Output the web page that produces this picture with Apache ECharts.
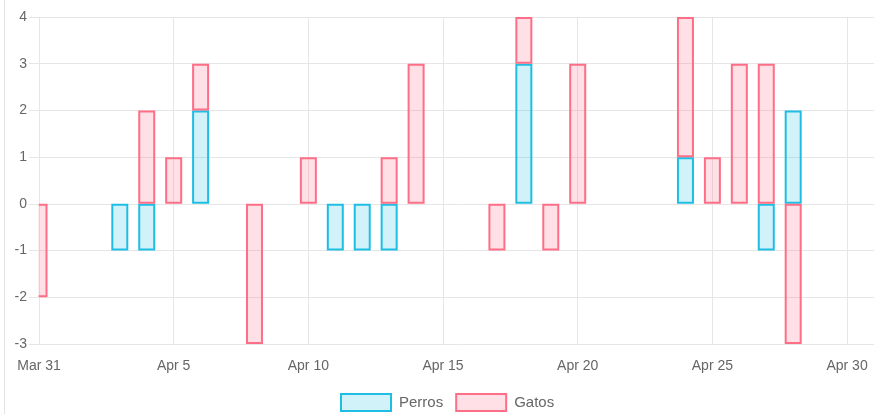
<!DOCTYPE html>
<html>
<head>
<meta charset="utf-8">
<script src="https://cdn.jsdelivr.net/npm/echarts@6/dist/echarts.min.js"></script>
<style>
  html, body { margin: 0; padding: 0; background: #fff; }
  #chart { position: absolute; left: 0; top: 0; width: 874px; height: 414px; }
  #edge { position: absolute; left: 4px; top: 0; width: 1px; height: 414px; background: #e3e3e3; }
</style>
</head>
<body>
<div id="chart"></div>
<div id="edge"></div>
<script>
const dates = ['03-31','04-03','04-04','04-05','04-06','04-08','04-10','04-11','04-12','04-13','04-14','04-17','04-18','04-19','04-20','04-24','04-25','04-26','04-27','04-28'];
const perros = [null,-1,-1,null,2,null,null,-1,-1,-1,null,null,3,null,null,1,null,null,-1,2];
const gatos  = [-2,null,2,1,1,-3,1,null,null,1,3,-1,1,-1,3,3,1,3,3,-3];
const monthNames = ['Jan','Feb','Mar','Apr','May','Jun','Jul','Aug','Sep','Oct','Nov','Dec'];
const yTicks = [-3,-2,-1,0,1,2,3,4];

// consecutive days on the axis: Mar 31 .. May 1
const origin = Date.UTC(2019, 2, 31);
const days = [];
for (let i = 0; i <= 31; i++) {
  const d = new Date(origin + i * 86400000);
  days.push(String(d.getUTCMonth() + 1).padStart(2, '0') + '-' + String(d.getUTCDate()).padStart(2, '0'));
}
function label(key) {
  const [m, d] = key.split('-').map(Number);
  return monthNames[m - 1] + ' ' + d;
}
const perrosData = dates.map((k, i) => [k, perros[i]]);
const gatosData = dates.map((k, i) => [k, gatos[i]]);

const FONT = '"Liberation Sans", Arial, Helvetica, sans-serif';
const GRID = '#e6e6e6';
const FS = 14;
const GL = 39, GT = 17, GH = 327;

const yBase = { type: 'value', min: yTicks[0], max: yTicks[yTicks.length - 1], interval: 1, axisLine: { show: false } };

const chart = echarts.init(document.getElementById('chart'), null, { renderer: 'canvas' });
chart.setOption({
  animation: false,
  textStyle: { fontFamily: FONT },
  grid: { left: GL, top: GT, width: 837, height: GH, containLabel: false },
  legend: {
    left: 335, top: 388,
    itemWidth: 50, itemHeight: 17, itemGap: 12,
    textStyle: { color: '#666', fontSize: 15, fontFamily: FONT, padding: [0, 0, 0, 3] },
    data: [{ name: 'Perros', icon: 'rect' }, { name: 'Gatos', icon: 'rect' }]
  },
  xAxis: {
    type: 'category', data: days, boundaryGap: false,
    axisLine: { show: false },
    axisTick: { show: true, length: 10, interval: 4, lineStyle: { color: GRID } },
    splitLine: { show: true, interval: 4, lineStyle: { color: GRID, width: 1 } },
    axisLabel: {
      interval: 4, color: '#666', fontSize: FS, fontFamily: FONT, margin: 15,
      formatter: function (v) { return label(v); }
    }
  },
  yAxis: [
    Object.assign({}, yBase, {
      axisTick: { show: false }, axisLabel: { show: false },
      splitLine: { show: true, lineStyle: { color: GRID, width: 1 } }
    }),
    Object.assign({}, yBase, {
      position: 'left', z: 10,
      axisTick: { show: true, length: 10, lineStyle: { color: GRID } },
      splitLine: { show: false },
      axisLabel: { color: '#666', fontSize: FS, fontFamily: FONT, margin: 12 }
    })
  ],
  graphic: [{
    type: 'rect', z: 5, silent: true,
    shape: { x: 5.5, y: GT - 3, width: GL - 0.5 - 5.5, height: GH + 6 },
    style: { fill: '#fff' }
  }],
  series: [
    {
      name: 'Perros', type: 'bar', stack: 'total', barWidth: 17, yAxisIndex: 0,
      data: perrosData,
      itemStyle: { color: 'rgba(30,190,228,0.2)', borderColor: 'rgb(30,190,228)', borderWidth: 2 }
    },
    {
      name: 'Gatos', type: 'bar', stack: 'total', barWidth: 17, yAxisIndex: 0,
      data: gatosData,
      itemStyle: { color: 'rgba(255,99,132,0.2)', borderColor: 'rgb(255,110,135)', borderWidth: 2 }
    }
  ]
});
</script>
</body>
</html>
